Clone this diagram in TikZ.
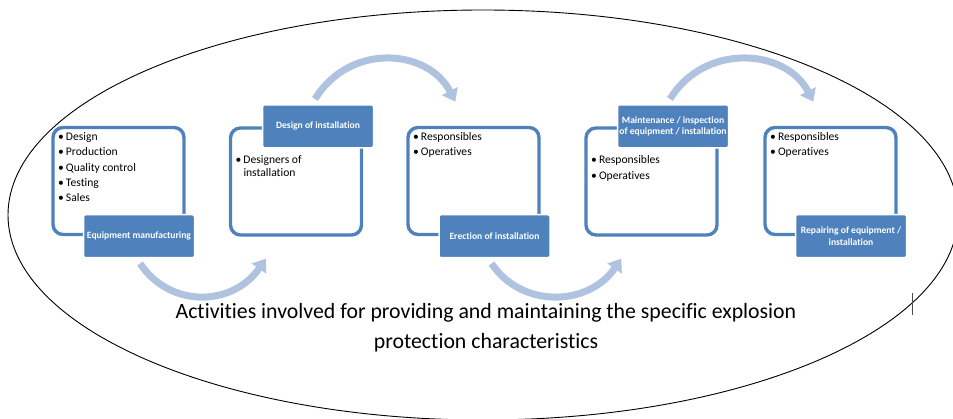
\documentclass[tikz,border=0pt]{standalone}
\usepackage{fontspec}
\setmainfont{Carlito}[Ligatures=NoCommon]
\usetikzlibrary{positioning, arrows.meta, calc}
\definecolor{frameblue}{HTML}{4F81BD}
\definecolor{flowblue}{HTML}{AFC3E0}
\newcommand{\bul}{\makebox[8pt][l]{\textbullet}}

\begin{document}
\begin{tikzpicture}[x=1pt, y=-1pt,
  frame/.style={draw=frameblue, line width=3.4pt, rounded corners=10pt, minimum width=131pt, minimum height=107pt, inner sep=0pt},
  title/.style={fill=frameblue, draw=white, line width=1.5pt, rounded corners=1.5pt, text=white, font=\fontsize{9.6}{11.5}\selectfont\bfseries, minimum width=111pt, minimum height=43pt, align=center, inner sep=0.5pt},
  items/.style={anchor=north west, inner sep=0pt, align=left, font=\fontsize{11.6}{12.6}\selectfont},
  flow/.style={draw=flowblue, line width=7pt, -{Triangle[width=17pt, length=12pt]}}]
  \useasboundingbox (0,0) rectangle (953,419);
  \clip (0,0) rectangle (953,419);

  % Outer loop
  \draw[line width=0.9pt] (483,215) ellipse [x radius=475pt, y radius=205pt];
  \draw[line width=0.6pt, black!70] (912,293) -- (912,315);

  % Frames
  \node[frame] (f1) at (118.5,181) {};
  \node[frame] (f2) at (296,181.5) {};
  \node[frame] (f3) at (473.5,181) {};
  \node[frame] (f4) at (651.5,181.5) {};
  \node[frame] (f5) at (830.5,181) {};

  % Titles on the frame edges
  \node[title] (t1) at ([xshift=20.5pt]f1.south) {Equipment manufacturing};
  \node[title] (t2) at ([xshift=22pt]f2.north) {Design of installation};
  \node[title] (t3) at ([xshift=21pt]f3.south) {Erection of installation};
  \node[title] (t4) at ([xshift=21.5pt]f4.north) {Maintenance / inspection\\of equipment / installation};
  \node[title] (t5) at ([xshift=20.5pt]f5.south) {Repairing of equipment /\\installation};

  % Bullet lists
  \node[items] (b1) at ([xshift=6.5pt, yshift=-6.5pt]f1.north west) {\bul Design\\[2.7pt]\bul Production\\[2.7pt]\bul Quality control\\[2.7pt]\bul Testing\\[2.7pt]\bul Sales};
  \node[items] (b2) at ([xshift=6.5pt, yshift=-7pt]f2.west |- t2.south) {\bul Designers of\\\hspace*{8pt}installation};
  \node[items] (b3) at ([xshift=6.5pt, yshift=-6.5pt]f3.north west) {\bul Responsibles\\[2.7pt]\bul Operatives};
  \node[items] (b4) at ([xshift=6.5pt, yshift=-7pt]f4.west |- t4.south) {\bul Responsibles\\[2.7pt]\bul Operatives};
  \node[items] (b5) at ([xshift=6.5pt, yshift=-6.5pt]f5.north west) {\bul Responsibles\\[2.7pt]\bul Operatives};

  % Curved arrows between the steps
  \coordinate (a1) at ($(t1.south)+(1,5)$);
  \coordinate (a2) at ($(f2.south west)+(37,22)$);
  \coordinate (a3) at ($(t2.north)+(-3,-5)$);
  \coordinate (a4) at ($(f3.north west)+(49,-24)$);
  \coordinate (a5) at ($(t3.south)+(-3,5)$);
  \coordinate (a6) at ($(f4.south west)+(37,22)$);
  \coordinate (a7) at ($(t4.north)+(-3,-5)$);
  \coordinate (a8) at ($(f5.north west)+(50,-24)$);
  \draw[flow] (a1) .. controls +(30,45) and +(-33,48) .. (a2);
  \draw[flow] (a3) .. controls +(35,-57) and +(-27,-53) .. (a4);
  \draw[flow] (a5) .. controls +(30,45) and +(-33,48) .. (a6);
  \draw[flow] (a7) .. controls +(35,-57) and +(-27,-53) .. (a8);

  % Caption
  \node[font=\fontsize{21.8}{30}\selectfont, align=center] (cap) at (486,328) {Activities involved for providing and maintaining the specific explosion\\protection characteristics};
\end{tikzpicture}
\end{document}
